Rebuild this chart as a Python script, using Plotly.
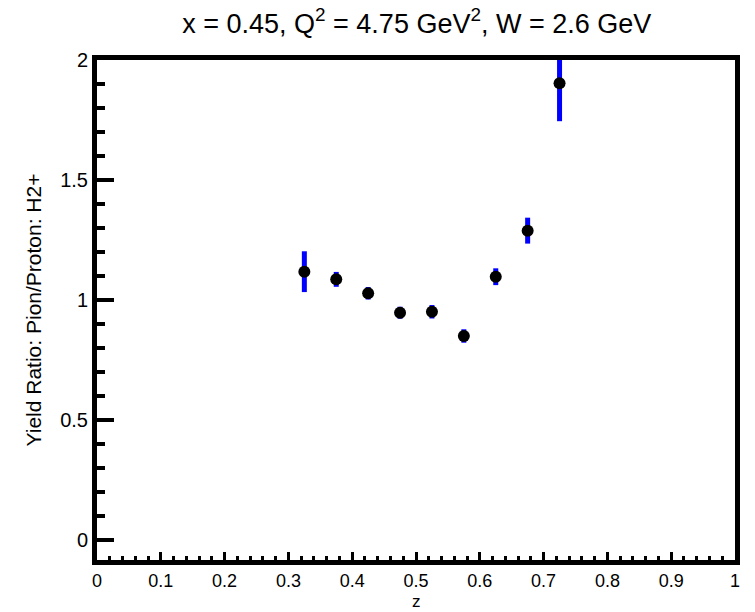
import plotly.graph_objects as go

# Pion/proton yield ratio versus z (H2+ target)
z_bins = [0.325, 0.375, 0.425, 0.475, 0.525, 0.575, 0.625, 0.675, 0.725]
yield_ratio = [1.118, 1.086, 1.028, 0.947, 0.951, 0.850, 1.097, 1.289, 1.903]
ratio_err = [0.085, 0.031, 0.026, 0.025, 0.028, 0.028, 0.035, 0.054, 0.158]

x_ticks = [0, 0.1, 0.2, 0.3, 0.4, 0.5, 0.6, 0.7, 0.8, 0.9, 1]
y_ticks = [0, 0.5, 1, 1.5, 2]

FONT = "Liberation Sans, Arial, Helvetica, sans-serif"

fig = go.Figure()
fig.add_trace(go.Scatter(
    x=z_bins,
    y=yield_ratio,
    mode="markers",
    marker=dict(color="black", size=12, symbol="circle"),
    error_y=dict(type="data", array=ratio_err, visible=True,
                 color="#0000ff", thickness=5, width=0),
    showlegend=False,
))

fig.update_layout(
    width=755,
    height=612,
    margin=dict(l=97, r=20, t=60, b=52),
    paper_bgcolor="white",
    plot_bgcolor="white",
    font=dict(family=FONT, color="black"),
    title=dict(
        text="x = 0.45, Q<sup>2</sup> = 4.75 GeV<sup>2</sup>, W = 2.6 GeV",
        x=0.552, xanchor="center", y=0.962, yanchor="middle",
        font=dict(size=27, family=FONT, color="black"),
    ),
)

# x-axis title placed below the tick labels, kept inside the page
fig.add_annotation(
    text="z", xref="paper", yref="paper", x=0.5, y=-0.104,
    xanchor="center", yanchor="bottom", showarrow=False, borderpad=0,
    font=dict(size=17, family=FONT, color="black"),
)

fig.update_xaxes(
    range=[0, 1],
    tickvals=x_ticks,
    ticktext=[f"{v:g}" for v in x_ticks],
    ticks="inside", ticklen=8, tickwidth=3, tickcolor="black",
    minor=dict(dtick=0.02, tick0=0, ticks="inside", ticklen=4,
               tickwidth=3, tickcolor="black"),
    showline=True, linewidth=5, linecolor="black", mirror=True,
    showgrid=False, zeroline=False, automargin=False,
    tickfont=dict(size=18, family=FONT),
)

fig.update_yaxes(
    range=[-0.0833, 2.0],
    tickvals=y_ticks,
    ticktext=[f"{v:g}" for v in y_ticks],
    ticks="inside", ticklen=17, tickwidth=4, tickcolor="black",
    minor=dict(dtick=0.1, tick0=0, ticks="inside", ticklen=8,
               tickwidth=4, tickcolor="black"),
    showline=True, linewidth=5, linecolor="black", mirror=True,
    showgrid=False, zeroline=False, automargin=False,
    tickfont=dict(size=20, family=FONT),
    title=dict(text="Yield Ratio: Pion/Proton: H2+",
               font=dict(size=21, family=FONT), standoff=14),
)

fig.write_html("out.html")
